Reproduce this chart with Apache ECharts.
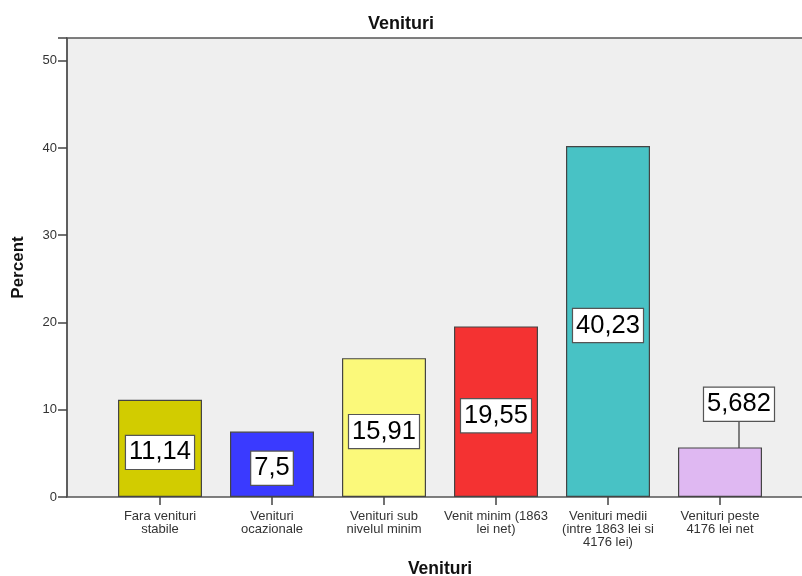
<!DOCTYPE html>
<html><head><meta charset="utf-8">
<script src="https://cdn.jsdelivr.net/npm/echarts@6/dist/echarts.min.js"></script>
<style>html,body{margin:0;padding:0;background:#fff}#c{width:802px;height:576px}</style>
</head><body><div id="c"></div>
<script>
const categories = ["Fara venituri\nstabile", "Venituri\nocazionale", "Venituri sub\nnivelul minim", "Venit minim (1863\nlei net)", "Venituri medii\n(intre 1863 lei si\n4176 lei)", "Venituri peste\n4176 lei net"];
const percentValues = [11.14, 7.5, 15.91, 19.55, 40.23, 5.682];
const valueLabels = ["11,14", "7,5", "15,91", "19,55", "40,23", "5,682"];
const barColors = ["#d2cc00", "#3a3aff", "#fbf97a", "#f43232", "#48c2c5", "#dfb8f2"];
const yTicks = [0, 10, 20, 30, 40, 50];

const chart = echarts.init(document.getElementById('c'));
const yMax = 52.6;
const FONT = 'Liberation Sans, Arial, sans-serif';
chart.setOption({
  animation: false,
  title: { text: 'Venituri', left: 'center', top: 10, textStyle: { fontFamily: FONT, fontWeight: 'bold', fontSize: 18, color: '#111' } },
  grid: [
    { left: 67, top: 38, right: -4, height: 459, show: true, backgroundColor: '#efefef', borderColor: '#555', borderWidth: 1.5, containLabel: false, outerBoundsMode: 'none' },
    { left: 104, top: 38, width: 672, height: 459, containLabel: false, outerBoundsMode: 'none' }
  ],
  xAxis: [
    { type: 'value', gridIndex: 0, show: false, min: 0, max: 1 },
    { type: 'category', gridIndex: 1, data: categories,
      name: 'Venituri', nameLocation: 'middle', nameGap: 63,
      nameTextStyle: { fontFamily: FONT, fontWeight: 'bold', fontSize: 17.5, color: '#111' },
      axisLine: { show: false },
      axisTick: { show: true, alignWithLabel: true, length: 8, lineStyle: { color: '#444', width: 1.5 } },
      axisLabel: { interval: 0, fontFamily: FONT, fontSize: 13, color: '#333', lineHeight: 13, margin: 13 },
      splitLine: { show: false } }
  ],
  yAxis: [
    { type: 'value', gridIndex: 0, min: 0, max: yMax, interval: 10,
      name: 'Percent', nameLocation: 'middle', nameGap: 40, nameRotate: 90,
      nameTextStyle: { fontFamily: FONT, fontWeight: 'bold', fontSize: 17, color: '#111' },
      axisLine: { show: true, lineStyle: { color: '#555', width: 1.5 } },
      axisTick: { show: true, length: 9, lineStyle: { color: '#444', width: 1.5 } },
      axisLabel: { fontFamily: FONT, fontSize: 13, color: '#333', margin: 10,
        formatter: v => (yTicks.indexOf(v) >= 0 ? String(v) : '') },
      splitLine: { show: false } },
    { type: 'value', gridIndex: 1, min: 0, max: yMax, show: false, splitLine: { show: false } }
  ],
  series: [{
    type: 'bar', xAxisIndex: 1, yAxisIndex: 1, barWidth: 84,
    data: percentValues.map((v, i) => ({ value: v, itemStyle: { color: barColors[i] }, labelLine: { show: i === 5 } })),
    itemStyle: { borderColor: '#444', borderWidth: 1.2 },
    label: {
      show: true, position: 'inside',
      formatter: p => valueLabels[p.dataIndex],
      fontFamily: FONT, fontSize: 25.5, color: '#000', lineHeight: 26,
      backgroundColor: '#fff', borderColor: '#555', borderWidth: 1.2, padding: [4, 3, 3, 3]
    },
    labelLine: { lineStyle: { color: '#333', width: 1.2 } },
    labelLayout: function (p) {
      if (p.dataIndex === 5) { return { dx: 19, dy: -68 }; }
      return { dy: 4 };
    }
  }]
});
</script></body></html>
